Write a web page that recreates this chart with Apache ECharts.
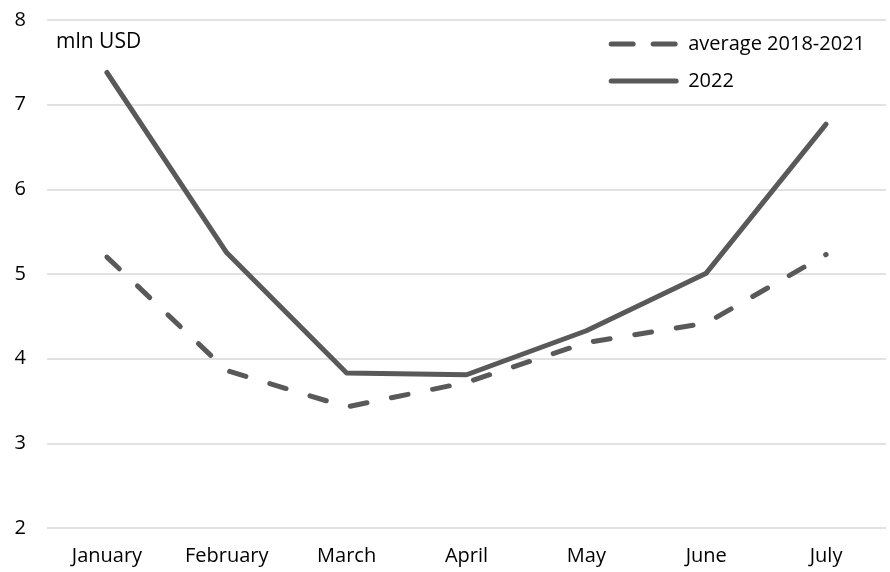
<!DOCTYPE html>
<html>
<head>
<meta charset="utf-8">
<script src="https://cdn.jsdelivr.net/npm/echarts@6/dist/echarts.min.js"></script>
<style>
  html, body { margin: 0; padding: 0; background: #ffffff; }
  #chart { width: 890px; height: 572px; }
</style>
</head>
<body>
<div id="chart"></div>
<script>
const months = ['January', 'February', 'March', 'April', 'May', 'June', 'July'];
const average20182021 = [5.20, 3.86, 3.43, 3.72, 4.19, 4.42, 5.23];
const values2022 = [7.38, 5.25, 3.83, 3.81, 4.33, 5.01, 6.77];

const FONT = 'Open Sans';
const FONT_SIZE = 20;
const INK = '#595959';

const chart = echarts.init(document.getElementById('chart'));
chart.setOption({
  animation: false,
  backgroundColor: '#ffffff',
  textStyle: { fontFamily: FONT },
  grid: { left: 47, right: 4, top: 20, bottom: 44 },
  graphic: [{
    type: 'text',
    left: 56,
    top: 32,
    style: { text: 'mln USD', fontFamily: FONT, fontSize: 21, fill: '#000000' }
  }],
  legend: {
    orient: 'vertical',
    right: 20,
    top: 29,
    itemWidth: 65,
    itemHeight: 14,
    itemGap: 17,
    itemStyle: { opacity: 0 },
    lineStyle: { width: 5, cap: 'round' },
    textStyle: {
      fontFamily: FONT, fontSize: FONT_SIZE, lineHeight: 20, color: '#000000',
      padding: [0, 0, 0, 7]
    },
    data: [
      { name: 'average 2018-2021', lineStyle: { type: [22, 20] } },
      { name: '2022' }
    ]
  },
  xAxis: {
    type: 'category',
    data: months,
    boundaryGap: true,
    axisLine: { show: false },
    axisTick: { show: false },
    axisLabel: { color: '#000000', fontFamily: FONT, fontSize: FONT_SIZE, margin: 18 }
  },
  yAxis: {
    type: 'value',
    min: 2,
    max: 8,
    interval: 1,
    axisLine: { show: false },
    axisTick: { show: false },
    axisLabel: { color: '#000000', fontFamily: FONT, fontSize: FONT_SIZE, margin: 21 },
    splitLine: { lineStyle: { color: '#d9d9d9', width: 1.5 } }
  },
  series: [
    {
      name: 'average 2018-2021',
      type: 'line',
      data: average20182021,
      symbol: 'none',
      color: INK,
      lineStyle: { color: INK, width: 5, type: [17, 25], cap: 'round' }
    },
    {
      name: '2022',
      type: 'line',
      data: values2022,
      symbol: 'none',
      color: INK,
      lineStyle: { color: INK, width: 5, cap: 'round', join: 'round' }
    }
  ]
});
</script>
</body>
</html>
